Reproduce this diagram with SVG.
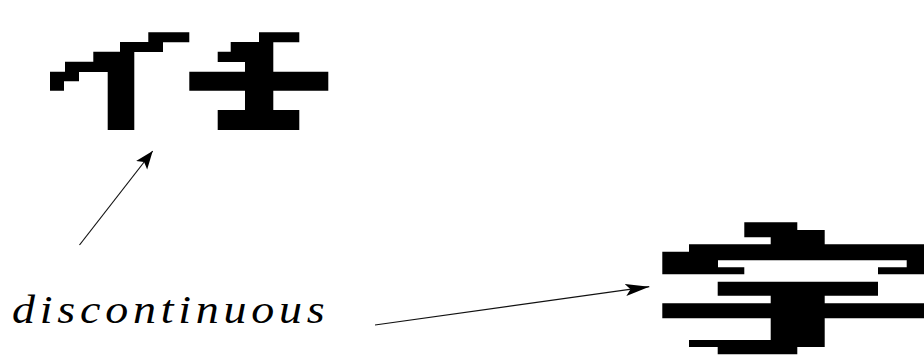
<svg xmlns="http://www.w3.org/2000/svg" width="924" height="356" viewBox="0 0 924 356">
  <style>
    .px { fill: #000; stroke: none; }
    .conn { stroke: #111; stroke-width: 1.2; fill: none; }
    .lbl { font-family: "Liberation Serif", "Times New Roman", serif; font-style: italic; font-size: 40px; fill: #000; }
  </style>
  <defs>
    <marker id="headA" viewBox="0 -8 19 16" markerWidth="19" markerHeight="16" refX="18" refY="0" orient="auto" markerUnits="userSpaceOnUse">
      <path d="M0,-7 L18,0 L0,7 L4,0 Z" fill="#000"/>
    </marker>
    <marker id="headB" viewBox="0 -7 25 14" markerWidth="25" markerHeight="14" refX="24" refY="0" orient="auto" markerUnits="userSpaceOnUse">
      <path d="M0,-6 L24,0 L0,6 L5,0 Z" fill="#000"/>
    </marker>
  </defs>
  <rect width="924" height="356" fill="#fff"/>

  <g id="glyph-ren-left">
    <path class="px" d="M148.3,32.3h41v10h-41z M120,42h43v10h-43z M93.3,51.7h41v10.3h-41z M65,61.7h69.3v10.3h-69.3z M50,71.7h29v9.6h-29z M50,81h14v9.7h-14z M107.7,71.7h26.6v58.3h-26.6z"/>
  </g>

  <g id="glyph-ren-right">
    <path class="px" d="M259,32.3h40.3v10h-40.3z M230.7,42h42.6v10h-42.6z M217.7,51.7h55.6v10.3h-55.6z M245,61.7h28.3v10.3h-28.3z M189.3,71.7h139v19h-139z M245,90.5h28.3v19.8h-28.3z M217.7,110h81.6v20h-81.6z"/>
  </g>

  <g id="glyph-zi">
    <path class="px" d="M744.3,222.3h53v15h-53z M770.7,230h54v14.5h-54z M689,244.3h235v7.6h-235z M662.3,251.7h261.7v8.5h-261.7z M662.3,260h55.7v7.5h-55.7z M662.3,267.3h82v7h-82z M906.7,260h17.3v7.5h-17.3z M878,267.3h46v7h-46z M717.7,281.7h160.3v14h-160.3z M770.7,295.5h54v8h-54z M662.3,303.3h261.7v15h-261.7z M770.7,318h54v28.7h-54z M689,340h135.7v6.9h-135.7z M717.7,346.7h79.6v7.6h-79.6z"/>
  </g>

  <g id="label-discontinuous">
    <text class="lbl" transform="scale(1.15 1)" x="10.4" y="323" textLength="272" lengthAdjust="spacing">discontinuous</text>
  </g>

  <g id="connectors">
    <line class="conn" x1="79.5" y1="245" x2="152.7" y2="151" marker-end="url(#headA)"/>
    <line class="conn" x1="375" y1="325" x2="649.3" y2="286.7" marker-end="url(#headB)"/>
  </g>
</svg>
